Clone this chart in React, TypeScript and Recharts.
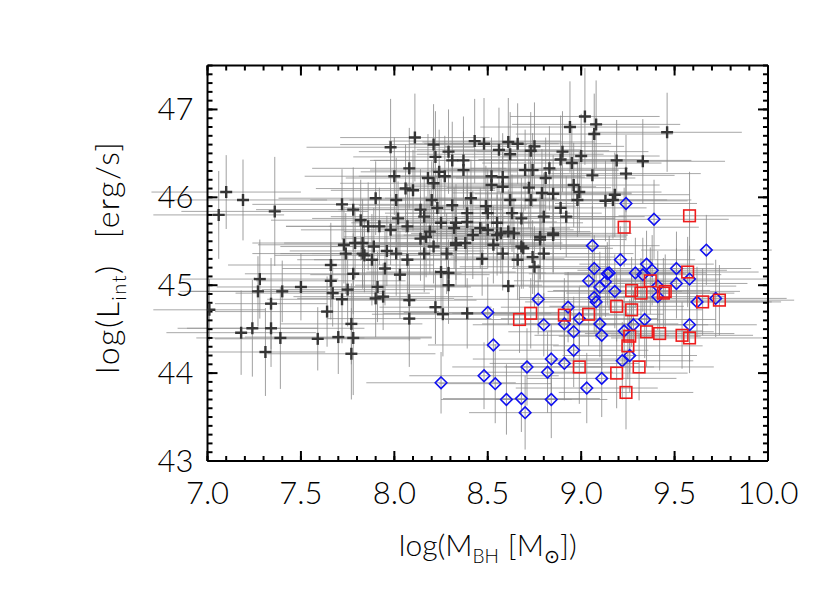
import { ScatterChart, Scatter, XAxis, YAxis, ErrorBar, Label } from 'recharts'

// [log M_BH, log L_int, err M, err L]
const blackRows: number[][] = [
  [7.10, 46.06, 0.40, 0.42], [7.06, 45.80, 0.35, 0.50], [7.19, 45.97, 0.45, 0.46],
  [7.36, 45.84, 0.50, 0.62], [7.72, 45.92, 0.48, 0.40], [7.01, 44.72, 0.30, 0.35],
  [7.28, 45.07, 0.42, 0.45], [7.27, 44.93, 0.38, 0.40], [7.40, 44.93, 0.55, 0.35],
  [7.50, 44.98, 0.45, 0.38], [7.34, 44.79, 0.30, 0.52], [7.18, 44.46, 0.40, 0.48],
  [7.24, 44.51, 0.35, 0.55], [7.34, 44.51, 0.50, 0.44], [7.31, 44.24, 0.32, 0.50],
  [7.39, 44.40, 0.45, 0.58], [7.59, 44.39, 0.55, 0.36], [7.70, 44.41, 0.50, 0.42],
  [7.78, 44.40, 0.42, 0.65], [7.77, 44.56, 0.38, 0.46], [7.77, 44.22, 0.45, 0.52],
  [7.64, 44.70, 0.60, 0.40], [7.66, 45.23, 0.55, 0.48], [7.66, 45.05, 0.40, 0.44],
  [7.67, 44.91, 0.52, 0.38], [7.75, 44.95, 0.46, 0.42], [7.72, 44.84, 0.40, 0.50],
  [7.78, 45.13, 0.58, 0.46], [7.91, 44.98, 0.50, 0.40], [7.90, 44.85, 0.42, 0.44],
  [7.94, 44.87, 0.48, 0.38], [8.08, 44.83, 0.36, 0.46], [8.08, 44.62, 0.44, 0.55],
  [8.22, 44.75, 0.30, 0.42], [8.26, 44.67, 0.38, 0.48], [8.39, 44.68, 0.45, 0.40],
  [8.29, 45.00, 0.50, 0.44], [7.95, 45.19, 0.55, 0.42], [8.03, 45.12, 0.48, 0.50],
  [8.25, 45.15, 0.40, 0.46], [8.29, 45.14, 0.52, 0.38], [8.47, 45.30, 0.44, 0.42],
  [8.07, 45.29, 0.50, 0.48], [7.73, 45.46, 0.46, 0.44], [7.79, 45.48, 0.55, 0.40],
  [7.83, 45.48, 0.42, 0.50], [7.74, 45.36, 0.50, 0.46], [7.84, 45.34, 0.48, 0.42],
  [7.88, 45.29, 0.40, 0.52], [7.96, 45.39, 0.52, 0.40], [8.01, 45.36, 0.45, 0.48],
  [8.16, 45.36, 0.50, 0.44], [8.28, 45.36, 0.40, 0.46], [8.33, 45.48, 0.46, 0.42],
  [8.38, 45.48, 0.52, 0.50], [8.17, 45.55, 0.44, 0.46], [7.98, 45.63, 0.48, 0.40],
  [7.89, 45.44, 0.50, 0.44], [8.14, 45.53, 0.42, 0.48], [8.21, 45.44, 0.55, 0.42],
  [8.33, 45.46, 0.48, 0.46], [7.83, 45.36, 0.44, 0.40], [8.78, 45.52, 0.46, 0.48],
  [8.85, 45.57, 0.40, 0.44], [8.66, 45.29, 0.50, 0.46], [8.74, 45.32, 0.44, 0.42],
  [8.80, 45.36, 0.48, 0.50], [8.75, 45.21, 0.40, 0.46], [8.61, 44.99, 0.45, 0.44],
  [8.58, 45.36, 0.52, 0.42], [8.68, 45.44, 0.46, 0.48], [8.53, 45.46, 0.50, 0.44],
  [8.42, 45.57, 0.44, 0.50], [8.57, 45.59, 0.48, 0.46], [8.64, 45.59, 0.42, 0.40],
  [7.98, 46.57, 0.45, 0.55], [8.11, 46.68, 0.40, 0.50], [8.21, 46.60, 0.50, 0.46],
  [8.22, 46.46, 0.44, 0.52], [8.29, 46.52, 0.48, 0.48], [8.31, 46.42, 0.42, 0.44],
  [8.37, 46.42, 0.50, 0.50], [8.43, 46.64, 0.46, 0.48], [8.48, 46.61, 0.40, 0.52],
  [8.08, 46.33, 0.52, 0.46], [8.00, 46.24, 0.48, 0.44], [8.18, 46.22, 0.44, 0.50],
  [8.21, 46.16, 0.50, 0.42], [8.24, 46.29, 0.42, 0.48], [8.27, 46.24, 0.46, 0.46],
  [8.37, 46.31, 0.50, 0.44], [8.06, 46.10, 0.48, 0.50], [8.10, 46.08, 0.44, 0.46],
  [7.90, 45.99, 0.52, 0.42], [8.01, 45.97, 0.46, 0.48], [8.31, 45.91, 0.50, 0.44],
  [7.82, 45.74, 0.48, 0.46], [7.86, 45.67, 0.44, 0.50], [7.92, 45.67, 0.50, 0.44],
  [8.02, 45.76, 0.46, 0.42], [8.07, 45.67, 0.42, 0.48], [8.16, 45.78, 0.50, 0.46],
  [8.20, 45.97, 0.44, 0.44], [8.25, 45.71, 0.48, 0.50], [8.33, 45.71, 0.46, 0.44],
  [7.78, 45.86, 0.52, 0.48], [8.14, 45.86, 0.44, 0.46], [8.23, 45.88, 0.50, 0.42],
  [8.19, 45.61, 0.46, 0.48], [8.32, 45.65, 0.42, 0.46], [8.39, 45.72, 0.48, 0.44],
  [8.50, 45.82, 0.44, 0.50], [8.55, 45.57, 0.50, 0.46], [8.41, 45.99, 0.46, 0.44],
  [9.02, 46.92, 0.40, 0.55], [9.08, 46.83, 0.45, 0.50], [9.07, 46.72, 0.42, 0.46],
  [8.94, 46.80, 0.48, 0.52], [8.61, 46.63, 0.46, 0.50], [8.66, 46.61, 0.50, 0.46],
  [8.56, 46.54, 0.44, 0.48], [8.75, 46.58, 0.48, 0.50], [8.73, 46.53, 0.42, 0.44],
  [8.62, 46.49, 0.50, 0.48], [8.90, 46.52, 0.46, 0.46], [8.89, 46.43, 0.44, 0.50],
  [8.95, 46.39, 0.48, 0.44], [9.00, 46.47, 0.42, 0.48], [9.19, 46.42, 0.40, 0.46],
  [8.52, 46.24, 0.48, 0.44], [8.58, 46.23, 0.44, 0.50], [8.70, 46.31, 0.50, 0.46],
  [8.74, 46.31, 0.46, 0.42], [8.83, 46.33, 0.42, 0.48], [8.81, 46.22, 0.48, 0.46],
  [9.06, 46.25, 0.44, 0.50], [9.24, 46.27, 0.40, 0.44], [8.52, 46.14, 0.46, 0.48],
  [8.58, 46.12, 0.50, 0.44], [8.72, 46.11, 0.44, 0.46], [8.79, 46.05, 0.48, 0.50],
  [8.85, 46.04, 0.42, 0.44], [8.96, 46.14, 0.46, 0.48], [8.99, 46.06, 0.44, 0.46],
  [8.98, 45.97, 0.48, 0.42], [9.18, 46.03, 0.40, 0.48], [9.13, 45.96, 0.44, 0.46],
  [9.17, 45.97, 0.42, 0.44], [8.49, 45.90, 0.48, 0.46], [8.62, 45.97, 0.44, 0.50],
  [8.73, 45.97, 0.50, 0.44], [8.89, 45.88, 0.46, 0.48], [8.92, 45.78, 0.42, 0.46],
  [8.63, 45.82, 0.48, 0.44], [8.80, 45.78, 0.44, 0.50], [8.68, 45.76, 0.50, 0.46],
  [8.55, 45.71, 0.46, 0.44], [8.61, 45.61, 0.44, 0.48], [8.46, 45.65, 0.48, 0.46],
  [8.85, 45.59, 0.42, 0.44], [8.78, 45.55, 0.46, 0.48], [9.46, 46.74, 0.40, 0.45],
  [9.33, 46.41, 0.44, 0.48], [8.50, 45.63, 0.46, 0.44], [8.69, 45.42, 0.48, 0.46],
  [8.39, 45.82, 0.44, 0.48],
]

const blueRows: number[][] = [
  [8.25, 43.89, 0.40, 0.35], [8.50, 44.69, 0.45, 0.40], [8.53, 44.32, 0.35, 0.42],
  [8.48, 43.97, 0.40, 0.38], [8.54, 43.88, 0.30, 0.45], [8.60, 43.70, 0.35, 0.40],
  [8.68, 43.71, 0.42, 0.38], [8.70, 43.55, 0.30, 0.42], [8.71, 44.07, 0.40, 0.44],
  [8.77, 44.84, 0.45, 0.40], [8.80, 44.55, 0.38, 0.36], [8.82, 44.01, 0.35, 0.46],
  [8.84, 44.16, 0.42, 0.40], [8.84, 43.70, 0.30, 0.44], [8.91, 44.11, 0.40, 0.42],
  [8.93, 44.75, 0.36, 0.40], [8.91, 44.56, 0.44, 0.38], [8.96, 44.26, 0.40, 0.42],
  [8.96, 44.47, 0.35, 0.40], [8.99, 44.62, 0.42, 0.36], [9.03, 43.83, 0.38, 0.40],
  [9.04, 45.05, 0.40, 0.42], [9.07, 45.19, 0.44, 0.38], [9.06, 45.45, 0.36, 0.45],
  [9.07, 44.86, 0.40, 0.40], [9.08, 44.81, 0.38, 0.42], [9.10, 44.56, 0.42, 0.38],
  [9.11, 44.43, 0.36, 0.40], [9.11, 43.94, 0.40, 0.44], [9.13, 45.04, 0.38, 0.40],
  [9.14, 45.13, 0.42, 0.36], [9.18, 44.93, 0.36, 0.42], [9.21, 45.29, 0.40, 0.38],
  [9.22, 44.14, 0.38, 0.44], [9.23, 44.48, 0.42, 0.40], [9.26, 44.20, 0.36, 0.42],
  [9.28, 44.55, 0.40, 0.38], [9.29, 45.14, 0.38, 0.40], [9.33, 45.12, 0.42, 0.42],
  [9.35, 45.24, 0.36, 0.38], [9.38, 45.17, 0.40, 0.40], [9.34, 44.61, 0.38, 0.44],
  [9.41, 44.99, 0.42, 0.40], [9.41, 44.87, 0.36, 0.38], [9.51, 45.19, 0.40, 0.42],
  [9.51, 45.02, 0.38, 0.40], [9.58, 45.07, 0.42, 0.38], [9.58, 44.55, 0.36, 0.42],
  [9.62, 44.81, 0.40, 0.40], [9.72, 44.85, 0.38, 0.44], [9.67, 45.40, 0.35, 0.40],
  [9.24, 45.93, 0.38, 0.42], [9.39, 45.75, 0.40, 0.45], [9.10, 44.98, 0.38, 0.40],
  [9.15, 45.14, 0.40, 0.42],
]

const redRows: number[][] = [
  [8.67, 44.61, 0.40, 0.38], [8.73, 44.68, 0.42, 0.40], [8.91, 44.66, 0.38, 0.42],
  [9.04, 44.67, 0.40, 0.36], [9.19, 44.76, 0.36, 0.40], [9.27, 44.94, 0.42, 0.38],
  [9.27, 44.72, 0.38, 0.42], [9.32, 44.91, 0.40, 0.40], [9.37, 45.05, 0.36, 0.38],
  [9.45, 44.93, 0.40, 0.42], [9.44, 44.91, 0.38, 0.40], [9.57, 45.15, 0.38, 0.40],
  [9.65, 44.81, 0.42, 0.38], [9.74, 44.83, 0.40, 0.40], [9.26, 44.42, 0.38, 0.42],
  [9.25, 44.31, 0.40, 0.38], [9.35, 44.47, 0.36, 0.40], [9.42, 44.45, 0.40, 0.42],
  [9.54, 44.43, 0.38, 0.38], [9.58, 44.40, 0.42, 0.40], [8.99, 44.07, 0.40, 0.42],
  [9.19, 44.00, 0.38, 0.40], [9.31, 44.07, 0.40, 0.38], [9.24, 43.78, 0.36, 0.42],
  [9.23, 45.66, 0.40, 0.45], [9.58, 45.79, 0.38, 0.50],
]

const xMajorTicks = [7, 7.5, 8, 8.5, 9, 9.5, 10]
const yMajorTicks = [43, 44, 45, 46, 47]
const xMinorTicks = Array.from({ length: 31 }, (_, i) => Math.round(70 + i) / 10)
const yMinorTicks = Array.from({ length: 46 }, (_, i) => Math.round(430 + i) / 10)

const toPoints = (rows: number[][]) =>
  rows.map(([x, y, ex, ey]) => ({ x, y, ex, ey }))

const FONT = 'Lato'
const THIN = 0.01 // axes need a size > 0 to be drawn
const tickText = { fill: '#000', fontSize: 31, fontFamily: FONT, fontWeight: 300 }
const frame = { stroke: '#000', strokeWidth: 2 }
const X_DOMAIN: [number, number] = [7, 10]
const Y_DOMAIN: [number, number] = [43, 47.5]

// empty tick label, so the tick lines are still drawn
const NoLabel = () => <g />

const Cross = (props: any) => {
  const { cx, cy } = props
  return (
    <g stroke="#353535" strokeWidth={2.4}>
      <line x1={cx - 6} y1={cy} x2={cx + 6} y2={cy} />
      <line x1={cx} y1={cy - 6} x2={cx} y2={cy + 6} />
    </g>
  )
}

const Diamond = (props: any) => {
  const { cx, cy } = props
  const r = 5.8
  return (
    <polygon
      points={`${cx},${cy - r} ${cx + r},${cy} ${cx},${cy + r} ${cx - r},${cy}`}
      fill="none"
      stroke="#1010f0"
      strokeWidth={1.6}
    />
  )
}

const Square = (props: any) => {
  const { cx, cy } = props
  const h = 5.8
  return (
    <rect x={cx - h} y={cy - h} width={2 * h} height={2 * h} fill="none" stroke="#ee1c1c" strokeWidth={1.6} />
  )
}

const XTitle = (props: any) => {
  const { viewBox } = props
  const x = viewBox.x + viewBox.width / 2
  const y = viewBox.y + 95
  return (
    <text x={x} y={y} textAnchor="middle" fontFamily={FONT} fontWeight={300} fontSize={30} fill="#000">
      log(M<tspan fontSize={19} dy={7}>BH</tspan>
      <tspan dy={-7} dx={9}>[M</tspan>
      <tspan fontSize={19} dy={7} fontFamily="DejaVu Sans">⊙</tspan>
      <tspan dy={-7}>])</tspan>
    </text>
  )
}

const YTitle = (props: any) => {
  const { viewBox } = props
  const x = viewBox.x - 88
  const y = viewBox.y + viewBox.height / 2 - 6
  return (
    <text
      x={x}
      y={y}
      transform={`rotate(-90, ${x}, ${y})`}
      textAnchor="middle"
      fontFamily={FONT}
      fontWeight={300}
      fontSize={32}
      letterSpacing={1.5}
      fill="#000"
    >
      log(L<tspan fontSize={20} dy={7}>int</tspan>
      <tspan dy={-7}>)</tspan>
      <tspan dx={26}>[erg/s]</tspan>
    </text>
  )
}

const errBars = (
  <>
    <ErrorBar dataKey="ex" direction="x" width={0} stroke="#929292" strokeWidth={1} strokeOpacity={0.8} />
    <ErrorBar dataKey="ey" direction="y" width={0} stroke="#888888" strokeWidth={1} strokeOpacity={0.8} />
  </>
)

const App = () => {
  return (
    <div style={{ width: 800, height: 580, background: '#fff' }}>
      <ScatterChart width={800} height={580} margin={{ top: 57.5, right: 40, bottom: 127, left: 199.5 }}>
        {/* inward minor / major ticks on all four sides */}
        <XAxis xAxisId="minorB" type="number" dataKey="x" domain={X_DOMAIN} allowDataOverflow
          ticks={xMinorTicks} interval={0} height={THIN} mirror tickSize={5} tick={NoLabel}
          axisLine={false} tickLine={frame} />
        <XAxis xAxisId="majorB" type="number" dataKey="x" domain={X_DOMAIN} allowDataOverflow
          ticks={xMajorTicks} interval={0} height={THIN} mirror tickSize={10} tick={NoLabel}
          axisLine={frame} tickLine={frame} />
        <XAxis xAxisId="minorT" orientation="top" type="number" dataKey="x" domain={X_DOMAIN} allowDataOverflow
          ticks={xMinorTicks} interval={0} height={THIN} mirror tickSize={5} tick={NoLabel}
          axisLine={false} tickLine={frame} />
        <XAxis xAxisId="majorT" orientation="top" type="number" dataKey="x" domain={X_DOMAIN} allowDataOverflow
          ticks={xMajorTicks} interval={0} height={THIN} mirror tickSize={10} tick={NoLabel}
          axisLine={frame} tickLine={frame} />
        <XAxis xAxisId="main" type="number" dataKey="x" domain={X_DOMAIN} allowDataOverflow
          ticks={xMajorTicks} interval={0} height={THIN} tickSize={0} tickMargin={21}
          tickFormatter={(v: number) => v.toFixed(1)} tick={tickText}
          axisLine={false} tickLine={false}>
          <Label content={XTitle} />
        </XAxis>
        <YAxis yAxisId="minorL" type="number" dataKey="y" domain={Y_DOMAIN} allowDataOverflow
          ticks={yMinorTicks} interval={0} width={THIN} mirror tickSize={5} tick={NoLabel}
          axisLine={false} tickLine={frame} />
        <YAxis yAxisId="majorL" type="number" dataKey="y" domain={Y_DOMAIN} allowDataOverflow
          ticks={yMajorTicks} interval={0} width={THIN} mirror tickSize={10} tick={NoLabel}
          axisLine={frame} tickLine={frame} />
        <YAxis yAxisId="minorR" orientation="right" type="number" dataKey="y" domain={Y_DOMAIN} allowDataOverflow
          ticks={yMinorTicks} interval={0} width={THIN} mirror tickSize={5} tick={NoLabel}
          axisLine={false} tickLine={frame} />
        <YAxis yAxisId="majorR" orientation="right" type="number" dataKey="y" domain={Y_DOMAIN} allowDataOverflow
          ticks={yMajorTicks} interval={0} width={THIN} mirror tickSize={10} tick={NoLabel}
          axisLine={frame} tickLine={frame} />
        <YAxis yAxisId="main" type="number" dataKey="y" domain={Y_DOMAIN} allowDataOverflow
          ticks={yMajorTicks} interval={0} width={THIN} tickSize={0} tickMargin={14}
          tick={tickText} axisLine={false} tickLine={false}>
          <Label content={YTitle} />
        </YAxis>
        <Scatter data={toPoints(blackRows)} xAxisId="main" yAxisId="main" shape={Cross} isAnimationActive={false}>
          {errBars}
        </Scatter>
        <Scatter data={toPoints(blueRows)} xAxisId="main" yAxisId="main" shape={Diamond} isAnimationActive={false}>
          {errBars}
        </Scatter>
        <Scatter data={toPoints(redRows)} xAxisId="main" yAxisId="main" shape={Square} isAnimationActive={false}>
          {errBars}
        </Scatter>
      </ScatterChart>
    </div>
  )
}

export default App
